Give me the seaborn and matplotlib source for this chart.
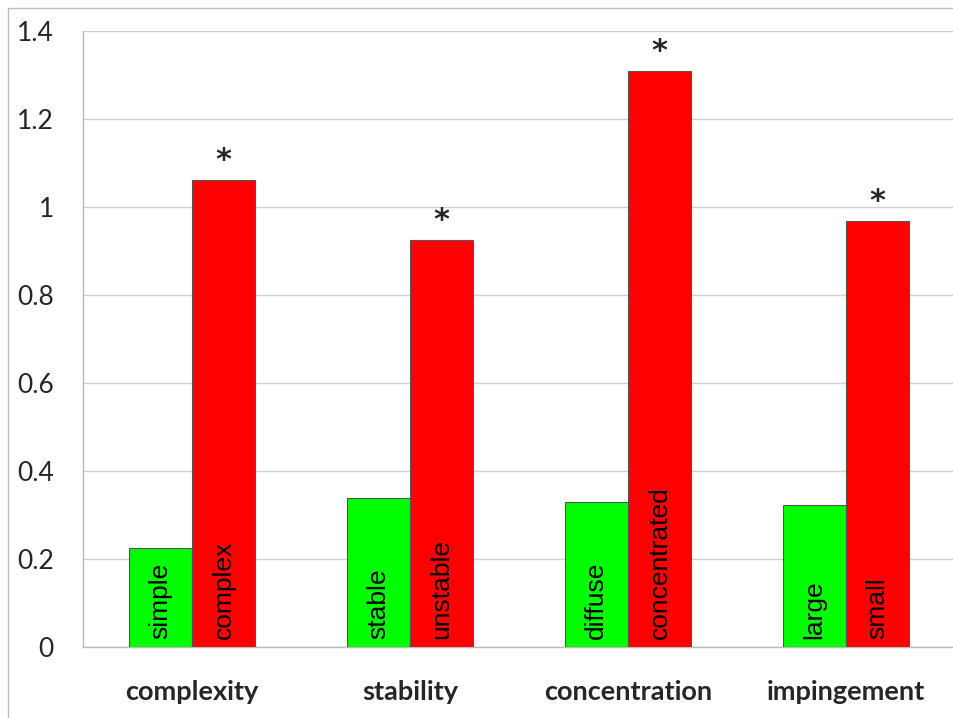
import numpy as np
import pandas as pd
import matplotlib
matplotlib.use("Agg")
import matplotlib.pyplot as plt
import seaborn as sns
from matplotlib.patches import Rectangle

# data
categories = ['complexity', 'stability', 'concentration', 'impingement']
low_labels = ['simple', 'stable', 'diffuse', 'large']
high_labels = ['complex', 'unstable', 'concentrated', 'small']
low_values = [0.225, 0.339, 0.330, 0.323]
high_values = [1.061, 0.925, 1.309, 0.968]
yticks = [0, 0.2, 0.4, 0.6, 0.8, 1, 1.2, 1.4]
ytick_labels = ['0', '0.2', '0.4', '0.6', '0.8', '1', '1.2', '1.4']

df = pd.DataFrame({
    'category': categories * 2,
    'level': ['low'] * 4 + ['high'] * 4,
    'value': low_values + high_values,
    'label': low_labels + high_labels,
})

sns.set_style('white')
fig = plt.figure(figsize=(9.54, 7.18), dpi=100)
ax = fig.add_axes([0.087, 0.099, 0.914, 0.858])

sns.barplot(data=df, x='category', y='value', hue='level', order=categories,
            hue_order=['low', 'high'], palette=['#00ff00', '#ff0000'], saturation=1,
            width=0.58, gap=0, edgecolor='#555555', linewidth=0.8,
            legend=False, ax=ax, zorder=3)

ax.set_ylim(0, 1.4)
ax.set_xlim(-0.5, 3.5)
ax.set_yticks(yticks)
ax.set_yticklabels(ytick_labels, fontfamily='Lato', fontsize=19)
ax.set_xticks(range(4))
ax.set_xticklabels(categories, fontfamily='Lato', fontweight='bold', fontsize=19.5)
ax.set_xticks([-0.5, 0.5, 1.5, 2.5, 3.5], minor=True)
ax.tick_params(axis='x', which='major', length=0, pad=24)
ax.tick_params(axis='x', which='minor', length=8, width=1, color='#bbbbbb', direction='out')
ax.tick_params(axis='y', length=10, width=1, color='#cccccc', direction='out', pad=11)
ax.set_xlabel('')
ax.set_ylabel('')
ax.yaxis.grid(True, color='#d0d0d0', linewidth=1, zorder=0)
ax.set_axisbelow(True)
for s in ['top', 'right']:
    ax.spines[s].set_visible(False)
for s in ['left', 'bottom']:
    ax.spines[s].set_color('#bbbbbb')
    ax.spines[s].set_linewidth(1)

# labels inside bars + asterisks
bars = [p for p in ax.patches if p.get_height() > 0]
bars = sorted(bars, key=lambda p: p.get_x())
for p, lab in zip(bars, [l for pair in zip(low_labels, high_labels) for l in pair]):
    cx = p.get_x() + p.get_width() / 2
    ax.text(cx, 0.017, lab, rotation=90, ha='center', va='bottom',
            fontfamily='Liberation Sans', fontsize=19, color='black', zorder=4)
    if lab in high_labels:
        ax.text(cx, p.get_height() + 0.012, '*', ha='center', va='bottom',
                fontfamily='DejaVu Sans', fontsize=22, fontweight='bold', zorder=4)

fig.patches.append(Rectangle((8 / 954, -0.05), 1.2, 1.05 - 8 / 718, transform=fig.transFigure,
                             fill=False, edgecolor='#bbbbbb', linewidth=1, clip_on=False))

fig.savefig('out.png', dpi=100)
